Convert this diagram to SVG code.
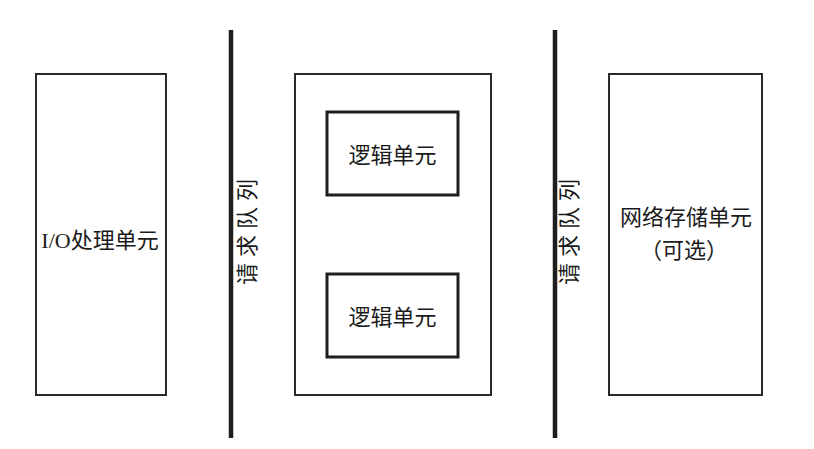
<svg xmlns="http://www.w3.org/2000/svg" width="814" height="449" viewBox="0 0 814 449">
<style>
.box{fill:#fff;stroke:#2a2a2a;stroke-width:2}
.inner{fill:#fff;stroke:#1e1e1e;stroke-width:3}
.bar{stroke:#1e1e1e;stroke-width:4.5;fill:none}
.t{font-family:"Liberation Serif","Noto Sans CJK SC",serif;font-size:22px;fill:#1a1a1a;text-anchor:middle}
.q{font-family:"Noto Sans CJK SC",sans-serif;font-size:22px;fill:#1a1a1a;text-anchor:middle;letter-spacing:6px}
</style>
<rect width="814" height="449" fill="#fff"/>
<g id="connectors">
<line class="bar" x1="231" y1="30" x2="231" y2="438"/>
<line class="bar" x1="555" y1="30" x2="555" y2="438"/>
<text class="q" transform="translate(255,232) rotate(-90)" x="3" y="0">请求队列</text>
<text class="q" transform="translate(577,232) rotate(-90)" x="3" y="0">请求队列</text>
</g>
<g id="io">
<rect class="box" x="36" y="74" width="130" height="321"/>
<text class="t" x="100" y="248">I/O处理单元</text>
</g>
<g id="logic">
<rect class="box" x="295" y="74" width="196" height="321"/>
</g>
<g id="logic1">
<rect class="inner" x="327" y="112" width="131" height="83"/>
<text class="t" x="392.5" y="163">逻辑单元</text>
</g>
<g id="logic2">
<rect class="inner" x="327" y="274" width="131" height="83"/>
<text class="t" x="392.5" y="325">逻辑单元</text>
</g>
<g id="storage">
<rect class="box" x="609" y="74" width="153" height="321"/>
<text class="t" x="686" y="225">网络存储单元</text>
<text class="t" x="684" y="258">（可选）</text>
</g>
</svg>
